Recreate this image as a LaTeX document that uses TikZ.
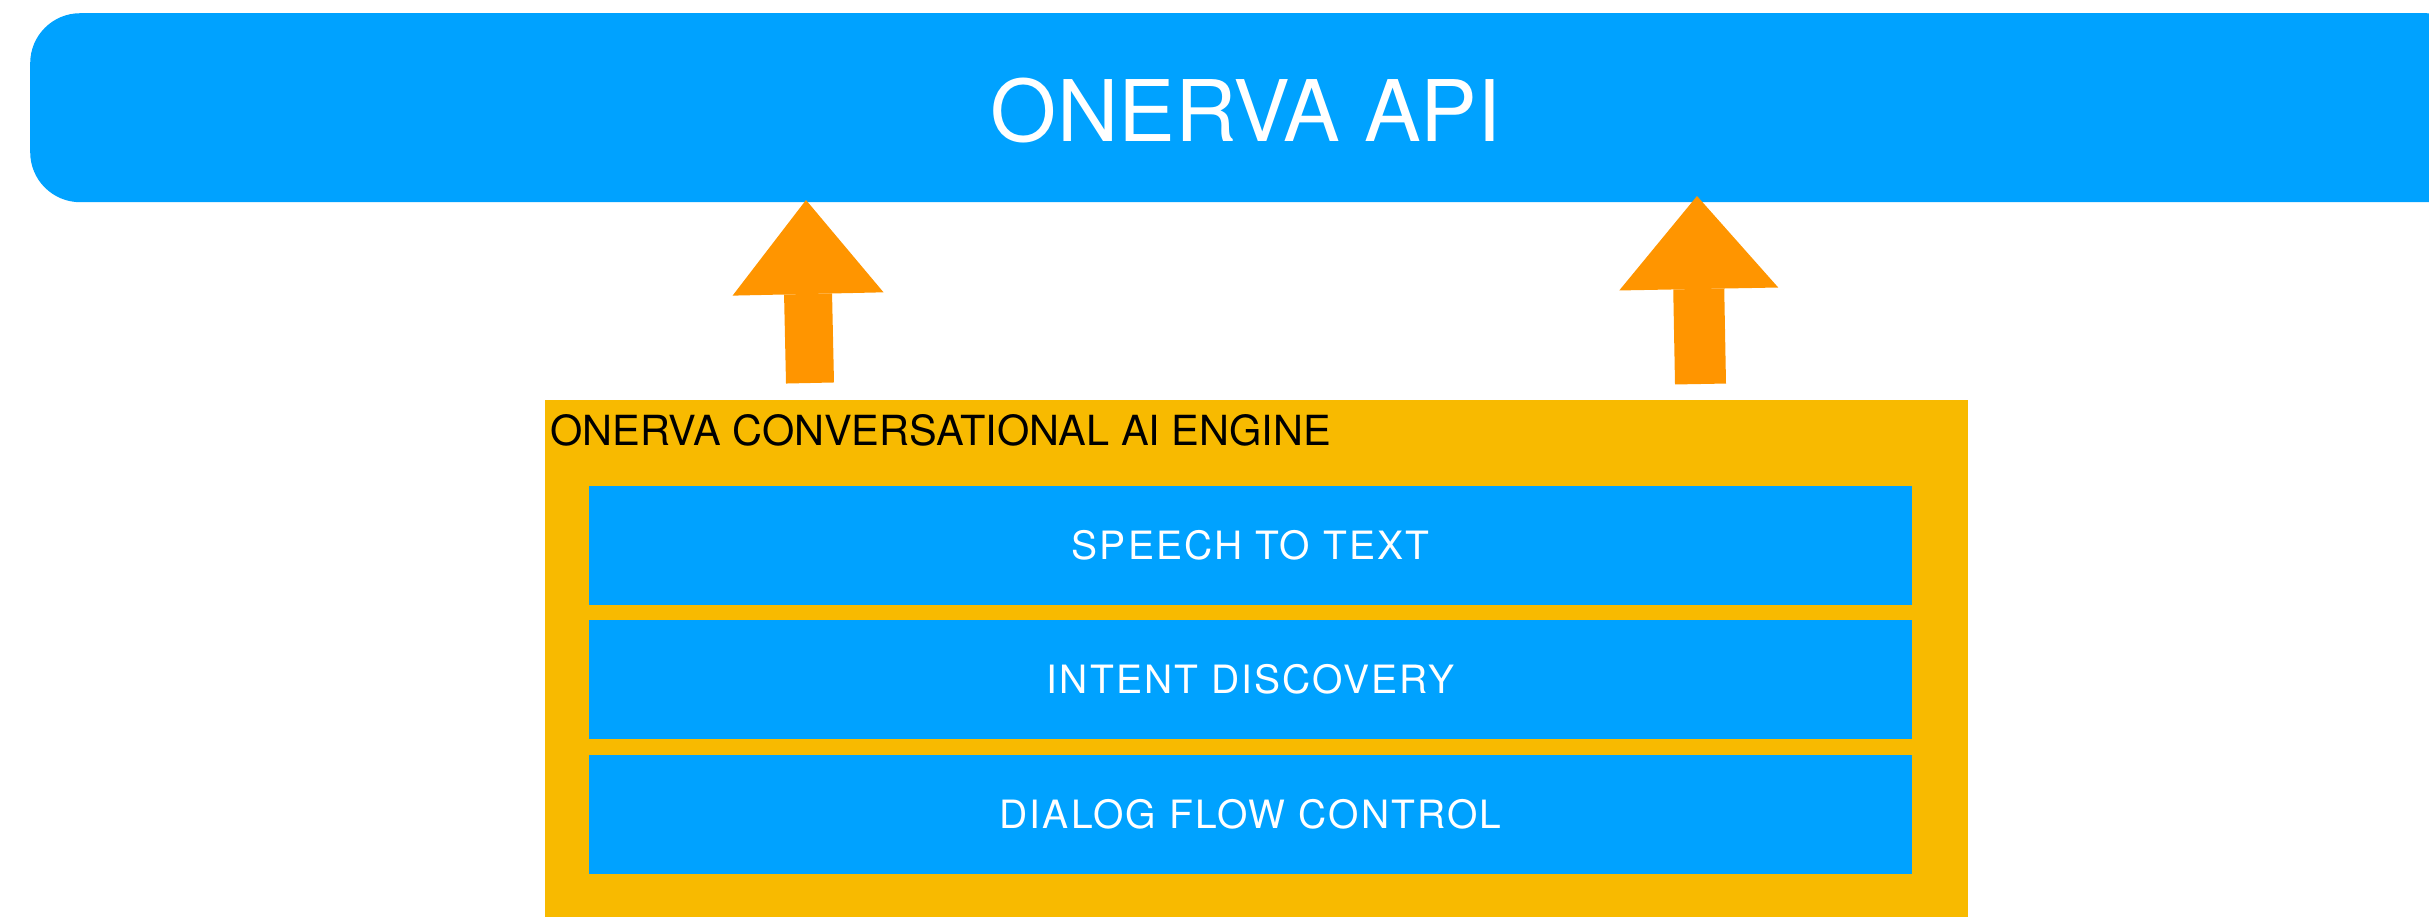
\documentclass[tikz,border=0pt]{standalone}
\usepackage{fontspec}
\setmainfont{TeX Gyre Heros}
\newfontfamily\layerfont[LetterSpace=5.5]{TeX Gyre Heros}
\usetikzlibrary{arrows.meta}
\definecolor{apiblue}{HTML}{00A2FF}
\definecolor{arroworange}{HTML}{FF9500}
\definecolor{engineyellow}{HTML}{F8BA00}
\tikzset{
  apibar/.style={fill=apiblue, draw=none, rounded corners=50pt, inner sep=0pt},
  enginebox/.style={fill=engineyellow, draw=none, inner sep=0pt},
  layerbox/.style={fill=apiblue, draw=none, inner sep=0pt, minimum width=1323pt, minimum height=119pt,
    text=white, font=\layerfont\fontsize{39}{46}\selectfont},
  bigarrow/.style={draw=arroworange, line width=#1, line cap=butt},
}
\begin{document}
\begin{tikzpicture}[x=1pt,y=-1pt]
\useasboundingbox (0,0) rectangle (2429,916);
\clip (0,0) rectangle (2429,916);
% API bar
\node[apibar, anchor=north west, minimum width=2446pt, minimum height=189pt] (api) at (30,13) {};
\node[text=white, font=\fontsize{85}{100}\selectfont, anchor=base, inner sep=0pt] (apitext) at (1246,141) {ONERVA API};
% Engine box
\node[enginebox, anchor=north west, minimum width=1423pt, minimum height=540pt] (engine) at (545,400) {};
\node[anchor=base west, inner sep=0pt, font=\fontsize{41.5}{48}\selectfont] (enginetitle) at (550,445) {ONERVA CONVERSATIONAL AI ENGINE};
% Layers
\node[layerbox] (stt) at (1250.5,545.5) {SPEECH TO TEXT};
\node[layerbox] (intent) at (1250.5,679.5) {INTENT DISCOVERY};
\node[layerbox] (dialog) at (1250.5,814.5) {DIALOG FLOW CONTROL};
% Arrows
\coordinate (a1s) at (810,383);
\coordinate (a1e) at (806,200);
\coordinate (a2s) at (1700.5,384);
\coordinate (a2e) at (1697,196);
\draw[bigarrow=48pt, -{Triangle[width=151pt,length=94pt,line width=0pt]}, fill=arroworange] (a1s) -- (a1e);
\draw[bigarrow=51pt, -{Triangle[width=159pt,length=93pt,line width=0pt]}, fill=arroworange] (a2s) -- (a2e);
\end{tikzpicture}
\end{document}
